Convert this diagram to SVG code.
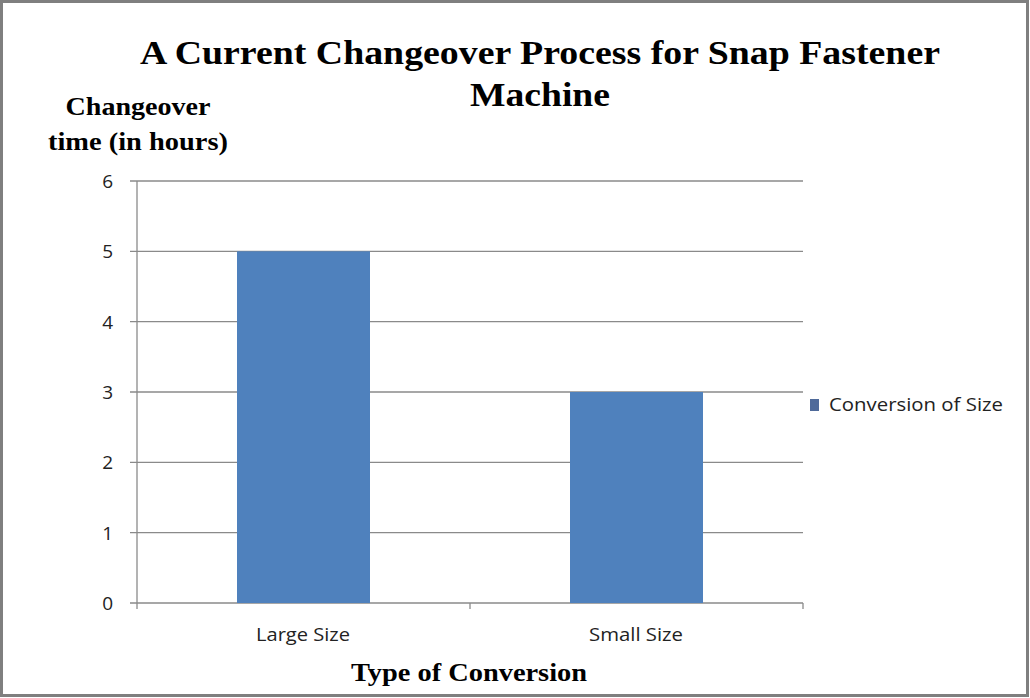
<svg xmlns="http://www.w3.org/2000/svg" width="1030" height="698" viewBox="0 0 1030 698">
<style>
.t{font-family:"Liberation Serif",serif;font-weight:bold;fill:#000}
.a{font-family:"Open Sans","Liberation Sans",sans-serif;font-size:19px;fill:#222}
.g{stroke:#8a8a8a;stroke-width:1.3}
.bar{fill:#4f81bd}
</style>
<rect x="1.5" y="1.5" width="1026" height="694" fill="#fff" stroke="#7f7f7f" stroke-width="3"/>
<g id="title">
<text class="t" x="540" y="64" font-size="34" text-anchor="middle" textLength="800" lengthAdjust="spacingAndGlyphs">A Current Changeover Process for Snap Fastener</text>
<text class="t" x="540" y="106" font-size="34" text-anchor="middle" textLength="140" lengthAdjust="spacingAndGlyphs">Machine</text>
</g>
<g id="y-title">
<text class="t" x="138" y="115" font-size="25" text-anchor="middle" textLength="145" lengthAdjust="spacingAndGlyphs">Changeover</text>
<text class="t" x="138" y="150" font-size="25" text-anchor="middle" textLength="180" lengthAdjust="spacingAndGlyphs">time (in hours)</text>
</g>
<g id="gridlines">
<line class="g" x1="130" y1="181" x2="803" y2="181"/>
<line class="g" x1="130" y1="251.3" x2="803" y2="251.3"/>
<line class="g" x1="130" y1="321.7" x2="803" y2="321.7"/>
<line class="g" x1="130" y1="392" x2="803" y2="392"/>
<line class="g" x1="130" y1="462.3" x2="803" y2="462.3"/>
<line class="g" x1="130" y1="532.7" x2="803" y2="532.7"/>
<line class="g" x1="130" y1="603" x2="803" y2="603"/>
<line class="g" x1="137" y1="181" x2="137" y2="609"/>
<line class="g" x1="470" y1="603" x2="470" y2="609"/>
<line class="g" x1="803" y1="603" x2="803" y2="609"/>
</g>
<g id="y-labels">
<text class="a" x="113" y="188" text-anchor="end">6</text>
<text class="a" x="113" y="258" text-anchor="end">5</text>
<text class="a" x="113" y="329" text-anchor="end">4</text>
<text class="a" x="113" y="399" text-anchor="end">3</text>
<text class="a" x="113" y="469" text-anchor="end">2</text>
<text class="a" x="113" y="540" text-anchor="end">1</text>
<text class="a" x="113" y="610" text-anchor="end">0</text>
</g>
<g id="bar-large">
<rect class="bar" x="237" y="251.3" width="133" height="351.7"/>
<text class="a" x="303" y="641" text-anchor="middle" textLength="94" lengthAdjust="spacingAndGlyphs">Large Size</text>
</g>
<g id="bar-small">
<rect class="bar" x="570" y="392" width="133" height="211"/>
<text class="a" x="636" y="641" text-anchor="middle" textLength="94" lengthAdjust="spacingAndGlyphs">Small Size</text>
</g>
<g id="legend">
<rect x="810" y="399" width="9" height="12" fill="#4f6a9a"/>
<text class="a" x="829" y="411" font-size="20" textLength="174" lengthAdjust="spacingAndGlyphs">Conversion of Size</text>
</g>
<g id="x-title">
<text class="t" x="469" y="681" font-size="25" text-anchor="middle" textLength="236" lengthAdjust="spacingAndGlyphs">Type of Conversion</text>
</g>
</svg>
